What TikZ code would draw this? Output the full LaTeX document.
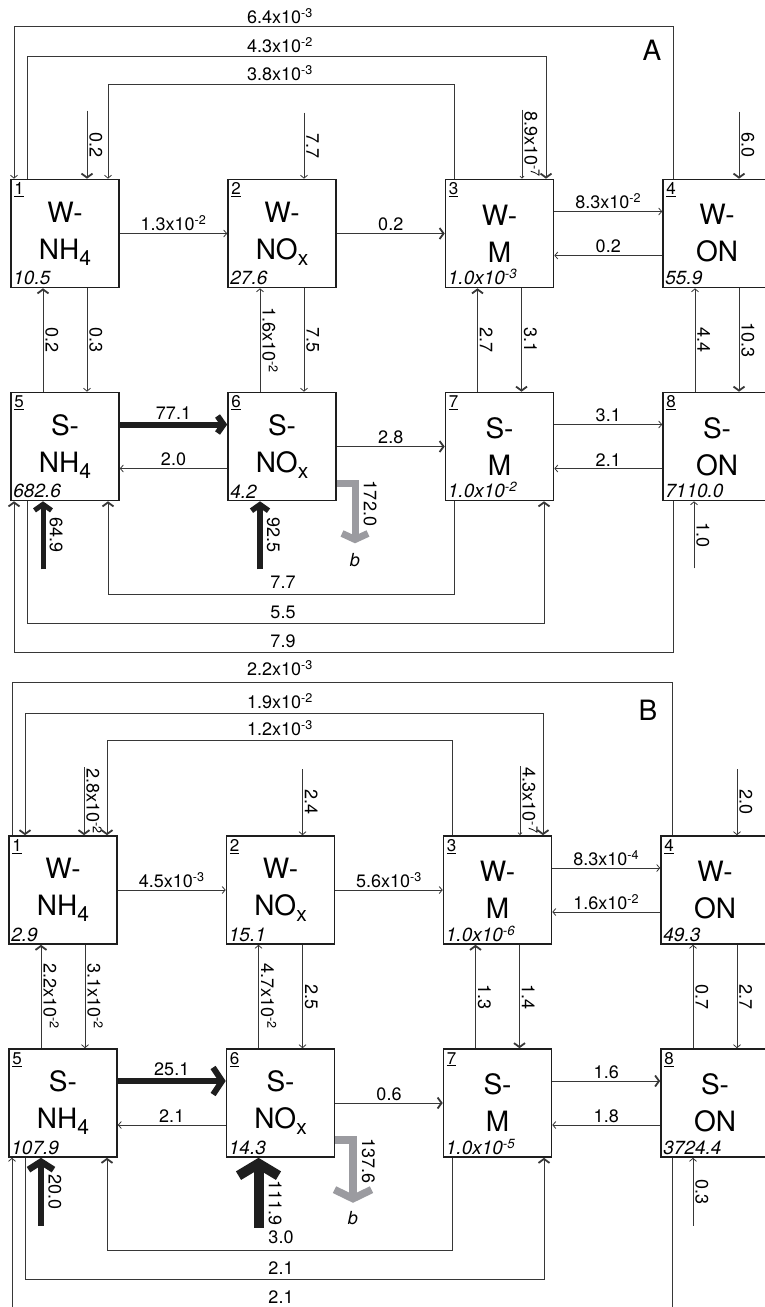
\documentclass[tikz,border=0pt]{standalone}
\usepackage{fontspec}
\setmainfont{TeX Gyre Heros}
\usetikzlibrary{arrows.meta,calc}

\definecolor{linegray}{RGB}{55,55,55}
\definecolor{boxblack}{RGB}{30,30,30}
\definecolor{lossgray}{RGB}{155,155,160}
\newcommand{\bigfont}{\fontsize{28}{37}\selectfont}
\newcommand{\flowfont}{\fontsize{18}{20}\selectfont}
\newcommand{\idxfont}{\fontsize{17}{19}\selectfont}
\newcommand{\valfont}{\fontsize{19}{21}\selectfont\itshape}
\newcommand{\ex}[1]{x10\textsuperscript{#1}}
\newcommand{\sub}[1]{\raisebox{-6pt}{\fontsize{21}{21}\selectfont #1}}

\tikzset{
  pool/.style 2 args={draw=boxblack, line width=1.6pt, fill=white, minimum size=108pt,
    inner sep=0pt, align=center, font=\bigfont,
    label={[font=\idxfont, anchor=north west, inner sep=4pt]north west:\underline{#1}},
    label={[font=\valfont, anchor=south west, inner sep=3pt]south west:#2}},
  flowline/.style={draw=linegray, line width=0.8pt},
  flow/.style={flowline, -{Straight Barb[length=3pt,width=7pt]}},
  flowt/.style={flowline, -{Straight Barb[length=2pt,width=4pt]}},
  flowb/.style={flowline, -{Straight Barb[length=4pt,width=11pt,line width=1.8pt]}},
  flowbb/.style={flowline, {Straight Barb[length=4pt,width=11pt,line width=1.8pt]}-{Straight Barb[length=4pt,width=11pt,line width=1.8pt]}},
  bulk/.style n args={3}{draw=boxblack, line width=#1, -{Straight Barb[length=#2,width=#3]}},
  loss/.style n args={3}{draw=lossgray, line width=#1, -{Straight Barb[length=#2,width=#3]}},
  lbl/.style={font=\flowfont, inner sep=2pt},
  vlbl/.style={lbl, rotate=-90, anchor=south},
}

\begin{document}
\begin{tikzpicture}[x=1pt,y=-1pt]
\useasboundingbox (0,0) rectangle (765,1307);

% ---------------- panel A ----------------
\node[pool={1}{10.5}] (a1) at (65,233.5) {W-\\NH\sub{4}};
\node[pool={2}{27.6}] (a2) at (282,233.5) {W-\\NO\sub{x}};
\node[pool={3}{1.0\ex{-3}}] (a3) at (499.5,233.5) {W-\\M};
\node[pool={4}{55.9}] (a4) at (717,233.5) {W-\\ON};
\node[pool={5}{682.6}] (a5) at (65,446.5) {S-\\NH\sub{4}};
\node[pool={6}{4.2}] (a6) at (282,446.5) {S-\\NO\sub{x}};
\node[pool={7}{1.0\ex{-2}}] (a7) at (499.5,446.5) {S-\\M};
\node[pool={8}{7110.0}] (a8) at (717,446.5) {S-\\ON};
\node[font=\bigfont] (pa) at (652,50) {A};

% loops over the top
\draw[flow] ($(a4.north)+(-44,0)$) -- ++(0,-152) -| ($(a1.north)+(-51,0)$);
\draw[flowb] ($(a1.north)+(-38,0)$) -- ++(0,-122) -| ($(a3.north)+(46.5,0)$);
\draw[flow] ($(a3.north)+(-45.5,0)$) -- ++(0,-94) -| ($(a1.north)+(43,0)$);
\node[lbl] at (280,16) {6.4\ex{-3}};
\node[lbl] at (280,45) {4.3\ex{-2}};
\node[lbl] at (280,73) {3.8\ex{-3}};

% inputs
\draw[flowb] ($(a1.north)+(22,-68)$) -- node[vlbl]{0.2} ($(a1.north)+(22,0)$);
\draw[flow] ($(a2.north)+(22,-66)$) -- node[vlbl]{7.7} ($(a2.north)+(22,0)$);
\draw[flowt] ($(a3.north)+(22.5,-69)$) -- node[vlbl]{8.9\ex{-7}} ($(a3.north)+(22.5,0)$);
\draw[flowb] ($(a4.north)+(22,-67)$) -- node[vlbl]{6.0} ($(a4.north)+(22,0)$);

% water row
\draw[flow] (a1.east) -- node[lbl,above]{1.3\ex{-2}} (a2.west);
\draw[flowb] (a2.east) -- node[lbl,above]{0.2} (a3.west);
\draw[flow] ($(a3.east)+(0,-22)$) -- node[lbl,above]{8.3\ex{-2}} ($(a4.west)+(0,-22)$);
\draw[flow] ($(a4.west)+(0,22)$) -- node[lbl,above]{0.2} ($(a3.east)+(0,22)$);

% water <-> sediment
\draw[flowb] ($(a5.north)+(-22,0)$) -- node[vlbl]{0.2} ($(a1.south)+(-22,0)$);
\draw[flow] ($(a1.south)+(22,0)$) -- node[vlbl]{0.3} ($(a5.north)+(22,0)$);
\draw[flow] ($(a6.north)+(-22,0)$) -- node[vlbl]{1.6\ex{-2}} ($(a2.south)+(-22,0)$);
\draw[flow] ($(a2.south)+(22,0)$) -- node[vlbl]{7.5} ($(a6.north)+(22,0)$);
\draw[flowb] ($(a7.north)+(-22,0)$) -- node[vlbl]{2.7} ($(a3.south)+(-22,0)$);
\draw[flowb] ($(a3.south)+(22,0)$) -- node[vlbl]{3.1} ($(a7.north)+(22,0)$);
\draw[flow] ($(a8.north)+(-22,0)$) -- node[vlbl]{4.4} ($(a4.south)+(-22,0)$);
\draw[flowb] ($(a4.south)+(22,0)$) -- node[vlbl]{10.3} ($(a8.north)+(22,0)$);

% sediment row
\draw[bulk={6pt}{6pt}{17pt}] ($(a5.east)+(0,-22)$) -- node[lbl,above]{77.1} ($(a6.west)+(0,-22)$);
\draw[flow] ($(a6.west)+(0,22)$) -- node[lbl,above]{2.0} ($(a5.east)+(0,22)$);
\draw[flowb] (a6.east) -- node[lbl,above]{2.8} (a7.west);
\draw[flow] ($(a7.east)+(0,-22)$) -- node[lbl,above]{3.1} ($(a8.west)+(0,-22)$);
\draw[flow] ($(a8.west)+(0,22)$) -- node[lbl,above]{2.1} ($(a7.east)+(0,22)$);

% sediment inputs and loss
\draw[bulk={5pt}{6pt}{17pt}] ($(a5.south)+(-22,68)$) -- node[vlbl,inner sep=4pt]{64.9} ($(a5.south)+(-22,0)$);
\draw[bulk={5.5pt}{6pt}{17pt}] ($(a6.south)+(-22,68)$) -- node[vlbl,inner sep=4pt]{92.5} ($(a6.south)+(-22,0)$);
\draw[flow] ($(a8.south)+(-23,67)$) -- node[vlbl]{1.0} ($(a8.south)+(-23,0)$);
\draw[loss={7pt}{6pt}{26pt}] ($(a6.east)+(0,36.5)$) -| node[vlbl,pos=0.67,inner sep=5pt]{172.0} ($(a6.south)+(73,42)$);
\node[lbl,font=\flowfont\itshape] at (355,560) {b};

% loops underneath
\draw[flowb] ($(a7.south)+(-45.5,0)$) -- ++(0,93) -| ($(a5.south)+(43,0)$);
\draw[flowb] ($(a5.south)+(-38,0)$) -- ++(0,122) -| ($(a7.south)+(44.5,0)$);
\draw[flowb] ($(a8.south)+(-44,0)$) -- ++(0,151) -| ($(a5.south)+(-51,0)$);
\node[lbl] at (283,582) {7.7};
\node[lbl] at (283,612) {5.5};
\node[lbl] at (283,641) {7.9};

% ---------------- panel B ----------------
\node[pool={1}{2.9}] (b1) at (63,890) {W-\\NH\sub{4}};
\node[pool={2}{15.1}] (b2) at (280.5,890) {W-\\NO\sub{x}};
\node[pool={3}{1.0\ex{-6}}] (b3) at (497.5,890) {W-\\M};
\node[pool={4}{49.3}] (b4) at (715,890) {W-\\ON};
\node[pool={5}{107.9}] (b5) at (63,1103) {S-\\NH\sub{4}};
\node[pool={6}{14.3}] (b6) at (280.5,1103) {S-\\NO\sub{x}};
\node[pool={7}{1.0\ex{-5}}] (b7) at (497.5,1103) {S-\\M};
\node[pool={8}{3724.4}] (b8) at (715,1103) {S-\\ON};
\node[font=\bigfont] (pb) at (648,710) {B};

% loops over the top
\draw[flowline] ($(b1.north)+(-51,0)$) -- ++(0,-153) -| ($(b4.north)+(-43,0)$);
\draw[flowbb] ($(b3.north)+(45.5,0)$) -- ++(0,-122) -| ($(b1.north)+(-38,0)$);
\draw[flowb] ($(b3.north)+(-45.5,0)$) -- ++(0,-95) -| ($(b1.north)+(44,0)$);
\node[lbl] at (280,668) {2.2\ex{-3}};
\node[lbl] at (280,701) {1.9\ex{-2}};
\node[lbl] at (280,728) {1.2\ex{-3}};

% inputs
\draw[flowb] ($(b1.north)+(21,-68)$) -- node[vlbl]{2.8\ex{-2}} ($(b1.north)+(21,0)$);
\draw[flow] ($(b2.north)+(22,-66)$) -- node[vlbl]{2.4} ($(b2.north)+(22,0)$);
\draw[flowt] ($(b3.north)+(22.5,-69)$) -- node[vlbl]{4.3\ex{-7}} ($(b3.north)+(22.5,0)$);
\draw[flow] ($(b4.north)+(22,-66)$) -- node[vlbl]{2.0} ($(b4.north)+(22,0)$);

% water row
\draw[flow] (b1.east) -- node[lbl,above]{4.5\ex{-3}} (b2.west);
\draw[flow] (b2.east) -- node[lbl,above]{5.6\ex{-3}} (b3.west);
\draw[flow] ($(b3.east)+(0,-22)$) -- node[lbl,above]{8.3\ex{-4}} ($(b4.west)+(0,-22)$);
\draw[flow] ($(b4.west)+(0,22)$) -- node[lbl,above]{1.6\ex{-2}} ($(b3.east)+(0,22)$);

% water <-> sediment
\draw[flowb] ($(b5.north)+(-22,0)$) -- node[vlbl]{2.2\ex{-2}} ($(b1.south)+(-22,0)$);
\draw[flow] ($(b1.south)+(22,0)$) -- node[vlbl]{3.1\ex{-2}} ($(b5.north)+(22,0)$);
\draw[flow] ($(b6.north)+(-22,0)$) -- node[vlbl]{4.7\ex{-2}} ($(b2.south)+(-22,0)$);
\draw[flow] ($(b2.south)+(22,0)$) -- node[vlbl]{2.5} ($(b6.north)+(22,0)$);
\draw[flowb] ($(b7.north)+(-22,0)$) -- node[vlbl]{1.3} ($(b3.south)+(-22,0)$);
\draw[flowb] ($(b3.south)+(22,0)$) -- node[vlbl]{1.4} ($(b7.north)+(22,0)$);
\draw[flow] ($(b8.north)+(-22,0)$) -- node[vlbl]{0.7} ($(b4.south)+(-22,0)$);
\draw[flow] ($(b4.south)+(22,0)$) -- node[vlbl]{2.7} ($(b8.north)+(22,0)$);

% sediment row
\draw[bulk={6pt}{9pt}{27pt}] ($(b5.east)+(0,-22)$) -- node[lbl,above]{25.1} ($(b6.west)+(0,-22)$);
\draw[flow] ($(b6.west)+(0,22)$) -- node[lbl,above]{2.1} ($(b5.east)+(0,22)$);
\draw[flowb] (b6.east) -- node[lbl,above]{0.6} (b7.west);
\draw[flowb] ($(b7.east)+(0,-22)$) -- node[lbl,above]{1.6} ($(b8.west)+(0,-22)$);
\draw[flow] ($(b8.west)+(0,22)$) -- node[lbl,above]{1.8} ($(b7.east)+(0,22)$);

% sediment inputs and loss
\draw[bulk={6.5pt}{8pt}{25pt}] ($(b5.south)+(-22,68)$) -- node[vlbl,inner sep=4pt]{20.0} ($(b5.south)+(-22,0)$);
\draw[bulk={10pt}{12pt}{40pt}] ($(b6.south)+(-22,70)$) -- node[vlbl,pos=0.35,inner sep=5pt]{111.9} ($(b6.south)+(-22,0)$);
\draw[flow] ($(b8.south)+(-22,68)$) -- node[vlbl]{0.3} ($(b8.south)+(-22,0)$);
\draw[loss={7.5pt}{9pt}{37pt}] ($(b6.east)+(0,37)$) -| node[vlbl,pos=0.67,inner sep=5pt]{137.6} ($(b6.south)+(72.5,45)$);
\node[lbl,font=\flowfont\itshape] at (353,1218) {b};

% loops underneath
\draw[flowb] ($(b7.south)+(-45.5,0)$) -- ++(0,93) -| ($(b5.south)+(44,0)$);
\draw[flowb] ($(b5.south)+(-38,0)$) -- ++(0,122) -| ($(b7.south)+(46.5,0)$);
\draw[flow] ($(b8.south)+(-43,0)$) -- ++(0,160) -| ($(b5.south)+(-51,0)$);
\node[lbl] at (281,1237) {3.0};
\node[lbl] at (281,1268) {2.1};
\node[lbl] at (281,1297) {2.1};
\end{tikzpicture}
\end{document}
